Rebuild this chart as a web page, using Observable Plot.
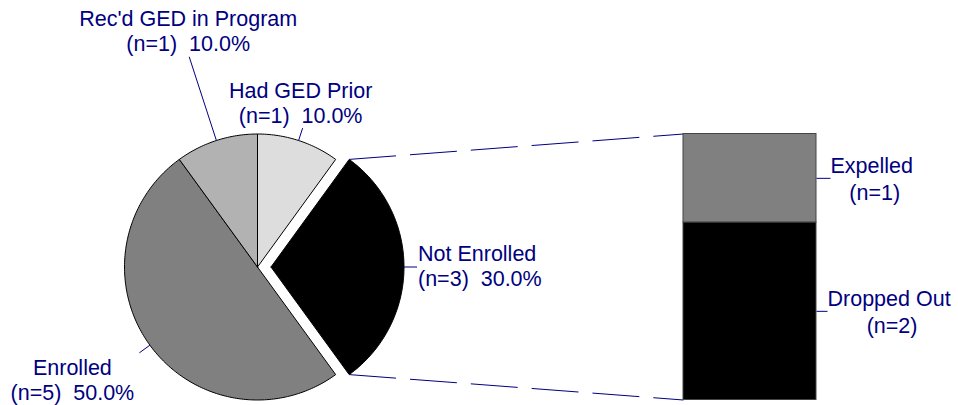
<!DOCTYPE html>
<html><head><meta charset="utf-8">
<script src="https://cdn.jsdelivr.net/npm/d3@7"></script>
<script src="https://cdn.jsdelivr.net/npm/@observablehq/plot@0.6"></script>
<style>
html,body{margin:0;padding:0;background:#fff;}
#chart svg{display:block;}
</style>
</head><body><div id="chart"></div>
<script>
// ---- data ----
const categories = ["Had GED Prior", "Not Enrolled", "Enrolled", "Rec'd GED in Program"];
const counts = [1, 3, 5, 1];
const percents = [10.0, 30.0, 50.0, 10.0];
const explodedCategory = "Not Enrolled";
const barCategories = ["Expelled", "Dropped Out"];
const barCounts = [1, 2];

// ---- styles / layout ----
const sliceColors = ["#dddddd", "#000000", "#808080", "#b2b2b2"];
const barColors = ["#808080", "#000000"];
const W = 958, H = 405;
const cx = 257, cy = 266.5, R = 133, explode = 13.5;
const barX0 = 683, barX1 = 816;
const FONT = "'Liberation Sans', Arial, Helvetica, sans-serif";
const FS = 21.5;
const TEXT = "#000080";
const dash = "47,14";
const leaderLen = [13, 13, 13, 88];
const labelLayout = [
  {anchor: "middle", dx: -2, dy: -5},
  {anchor: "start", dx: 1, dy: 19},
  {anchor: "middle", dx: -67, dy: 47},
  {anchor: "middle", dx: -1, dy: -5.5}
];
const barLeaderLen = [14, 11];

// ---- pie geometry ----
const rows = categories.map((c, i) => ({category: c, count: counts[i], pct: percents[i], color: sliceColors[i], i}));
const arcs = d3.pie().sort(null).value(d => d.count)(rows);
const slices = arcs.map(a => {
  const d = a.data;
  const mid = (a.startAngle + a.endAngle) / 2;
  const off = d.category === explodedCategory ? explode : 0;
  const ox = cx + off * Math.sin(mid), oy = cy - off * Math.cos(mid);
  const n = Math.max(8, Math.ceil((a.endAngle - a.startAngle) / (2 * Math.PI) * 360));
  const pts = [{x: ox, y: oy}];
  for (let k = 0; k <= n; ++k) {
    const t = a.startAngle + (a.endAngle - a.startAngle) * k / n;
    pts.push({x: ox + R * Math.sin(t), y: oy - R * Math.cos(t)});
  }
  pts.push({x: ox, y: oy});
  const e1 = {x: ox + R * Math.sin(mid), y: oy - R * Math.cos(mid)};
  const L = leaderLen[d.i];
  const e2 = {x: ox + (R + L) * Math.sin(mid), y: oy - (R + L) * Math.cos(mid)};
  const lay = labelLayout[d.i];
  return {
    ...d, pts, a, ox, oy,
    leader: {x1: e1.x, y1: e1.y, x2: e2.x, y2: e2.y},
    label: {x: e2.x + lay.dx, y: e2.y + lay.dy, anchor: lay.anchor,
      text: `${d.category}\n(n=${d.count})\u00a0 ${d.pct.toFixed(1)}%`}
  };
});

// ---- bar geometry ----
const total = d3.sum(barCounts);
const yBar = d3.scaleLinear([0, total], [cy - R, cy + R]);
let acc = 0;
const bars = barCategories.map((c, i) => {
  const y1 = yBar(acc); acc += barCounts[i]; const y2 = yBar(acc);
  return {category: c, count: barCounts[i], y1, y2, color: barColors[i], ym: (y1 + y2) / 2, len: barLeaderLen[i]};
});

// connectors from exploded slice to bar
const ex = slices.find(s => s.category === explodedCategory);
const connectors = [
  {x1: ex.ox + R * Math.sin(ex.a.startAngle), y1: ex.oy - R * Math.cos(ex.a.startAngle), x2: barX0, y2: yBar(0)},
  {x1: ex.ox + R * Math.sin(ex.a.endAngle), y1: ex.oy - R * Math.cos(ex.a.endAngle), x2: barX0, y2: yBar(total)}
];

// text measuring
const ctx = document.createElement("canvas").getContext("2d");
ctx.font = `${FS}px "Liberation Sans"`;
const barLabels = bars.map(b => {
  const x = barX1 + b.len;
  const w = ctx.measureText(b.category).width;
  return {name: b.category, nx: x, ny: b.ym - 5, cnt: `(n=${b.count})`, cx: x + w / 2 + 3, cy: b.ym - 5 + 26.5};
});

const textOpts = {fontFamily: FONT, fontSize: FS, fill: TEXT, lineAnchor: "bottom", lineHeight: 1.17};

const chart = Plot.plot({
  width: W, height: H, margin: 0,
  x: {domain: [0, W], range: [0, W], axis: null},
  y: {domain: [0, H], range: [0, H], axis: null},
  style: {background: "#fff", overflow: "visible"},
  marks: [
    ...slices.map(s => Plot.line(s.pts, {x: "x", y: "y", fill: s.color, stroke: "#000", strokeWidth: 1, strokeLinejoin: "round"})),
    Plot.link(connectors, {x1: "x1", y1: "y1", x2: "x2", y2: "y2", stroke: TEXT, strokeWidth: 1, strokeDasharray: dash}),
    Plot.rect(bars, {x1: () => barX0, x2: () => barX1, y1: "y1", y2: "y2", fill: "color", stroke: "#444", strokeWidth: 1}),
    Plot.link(slices.map(s => s.leader), {x1: "x1", y1: "y1", x2: "x2", y2: "y2", stroke: TEXT, strokeWidth: 1}),
    Plot.link(bars, {x1: () => barX1, x2: d => barX1 + d.len, y1: "ym", y2: "ym", stroke: TEXT, strokeWidth: 1}),
    ...slices.map(s => Plot.text([s.label], {x: "x", y: "y", text: "text", textAnchor: s.label.anchor, ...textOpts})),
    Plot.text(barLabels, {x: "nx", y: "ny", text: "name", textAnchor: "start", ...textOpts}),
    Plot.text(barLabels, {x: "cx", y: "cy", text: "cnt", textAnchor: "middle", ...textOpts})
  ],
  color: {type: "identity"}
});
document.getElementById("chart").appendChild(chart);
</script>
</body></html>
